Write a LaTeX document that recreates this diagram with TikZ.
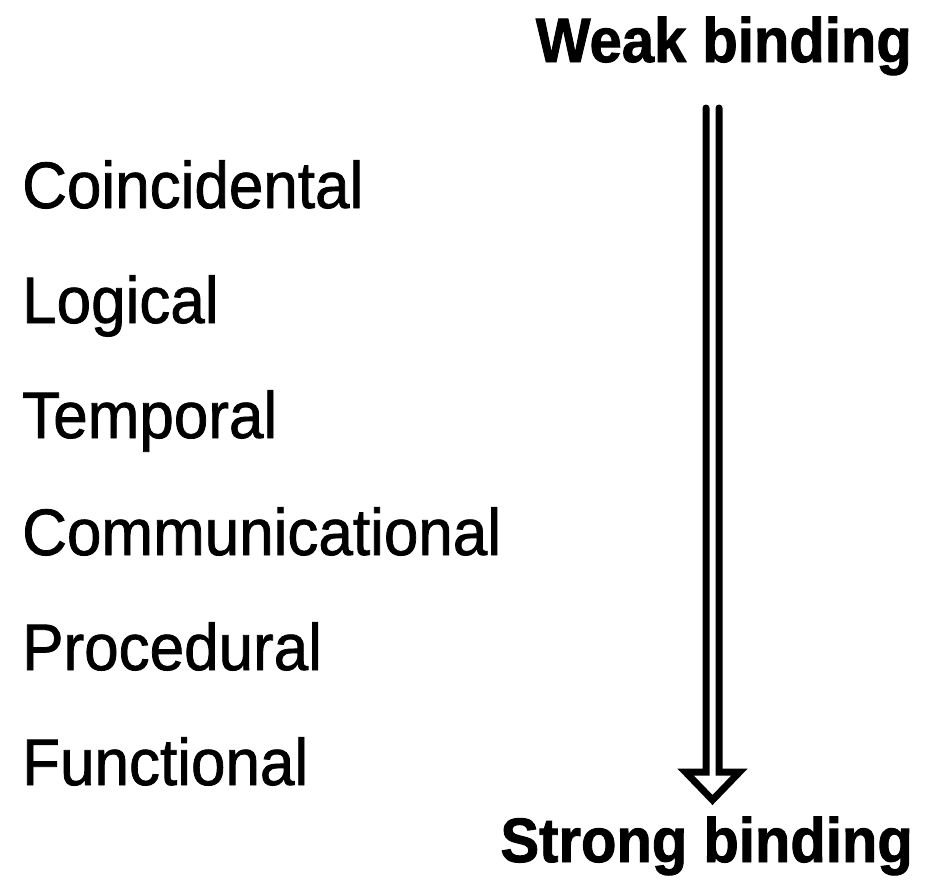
\documentclass[tikz,border=0pt]{standalone}
\usepackage{fontspec}
\setmainfont{Liberation Sans}
\newfontfamily\lblfont[FakeBold=1.2]{Liberation Sans}
\newfontfamily\endfont[FakeBold=1.5]{Liberation Sans Bold}
\begin{document}
\begin{tikzpicture}[x=1pt,y=-1pt,
  lvl/.style={anchor=base west,inner sep=0pt,yscale=1.06,font=\lblfont\fontsize{62}{70}\selectfont},
  endlbl/.style={anchor=base east,inner sep=0pt,yscale=1.08,font=\endfont\fontsize{58}{66}\selectfont},
  hollowarrow/.style={line width=7pt,line join=miter,line cap=round}]
\useasboundingbox (0,0) rectangle (929,881);
\node[endlbl] (weak) at (912,62) {Weak binding};
\node[endlbl] (strong) at (913,862) {Strong binding};
\node[lvl] (coinc) at (22,208) {Coincidental};
\node[lvl] (logic) at (22,323) {Logical};
\node[lvl] (temp) at (22,438) {Temporal};
\node[lvl] (comm) at (22,555) {Communicational};
\node[lvl] (proc) at (22,670) {Procedural};
\node[lvl] (func) at (22,785) {Functional};
\coordinate (top) at (712.5,108);
\coordinate (tip) at (712.5,800);
\draw[hollowarrow] ([xshift=-6.5pt]top) -- (706,772) -- (685.5,772) -- (tip) -- (739.5,772) -- (719,772) -- ([xshift=6.5pt]top);
\end{tikzpicture}
\end{document}
